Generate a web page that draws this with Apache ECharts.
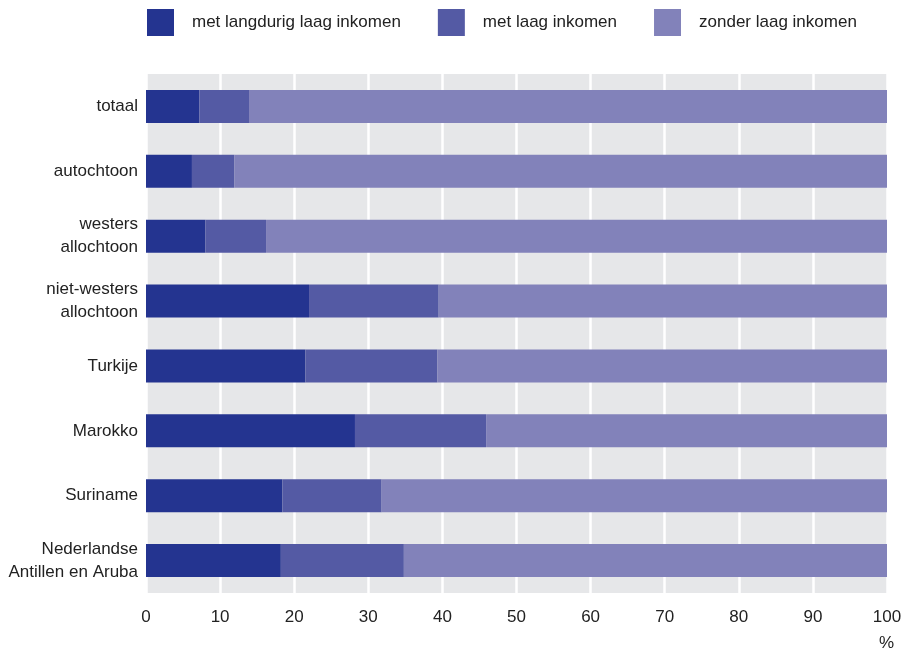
<!DOCTYPE html>
<html>
<head>
<meta charset="utf-8">
<script src="https://cdn.jsdelivr.net/npm/echarts@6/dist/echarts.min.js"></script>
<style>html,body{margin:0;padding:0;background:#fff}#c{width:905px;height:648px}</style>
</head>
<body>
<div id="c"></div>
<script>
const categories = ['totaal', 'autochtoon', 'westers\nallochtoon', 'niet-westers\nallochtoon', 'Turkije', 'Marokko', 'Suriname', 'Nederlandse\nAntillen en Aruba'];
const seriesNames = ['met langdurig laag inkomen', 'met laag inkomen', 'zonder laag inkomen'];
const langdurig = [7.2, 6.2, 8.0, 22.0, 21.5, 28.2, 18.4, 18.2];
const laag = [6.7, 5.7, 8.2, 17.5, 17.8, 17.7, 13.4, 16.6];
const zonder = [86.1, 88.1, 83.8, 60.5, 60.7, 54.1, 68.2, 65.2];
const xTicks = [0, 10, 20, 30, 40, 50, 60, 70, 80, 90, 100];
const colors = ['#243490', '#545aa4', '#8282ba'];
const font = 'Liberation Sans, Arial, sans-serif';

const chart = echarts.init(document.getElementById('c'), null, {renderer: 'canvas'});
const mk = (name, data, i) => ({
  name: name, type: 'bar', stack: 'total', data: data, barWidth: 33,
  itemStyle: {color: colors[i]}, emphasis: {disabled: true}, animation: false
});
chart.setOption({
  animation: false,
  color: colors,
  title: {text: '%', right: 6, top: 630, textStyle: {fontFamily: font, fontSize: 17, fontWeight: 'normal', color: '#222'}},
  legend: {
    left: 142, top: 4, itemWidth: 27, itemHeight: 27, itemGap: 37, icon: 'rect',
    textStyle: {fontFamily: font, fontSize: 17, color: '#222', padding: [0, 0, 0, 13]},
    data: seriesNames, selectedMode: false
  },
  grid: {left: 146, right: 18, top: 74, bottom: 55, show: true, backgroundColor: '#e6e7e9', borderWidth: 0, containLabel: false},
  xAxis: {
    type: 'value', min: xTicks[0], max: xTicks[xTicks.length - 1], interval: 10,
    axisLine: {show: false}, axisTick: {show: false},
    splitLine: {show: true, lineStyle: {color: '#ffffff', width: 2.5}},
    axisLabel: {fontFamily: font, fontSize: 17, color: '#222', margin: 16}
  },
  yAxis: {
    type: 'category', data: categories, inverse: true,
    axisLine: {show: false}, axisTick: {show: false}, splitLine: {show: false},
    axisLabel: {fontFamily: font, fontSize: 17, color: '#222', margin: 8, lineHeight: 23, align: 'right'}
  },
  series: [mk(seriesNames[0], langdurig, 0), mk(seriesNames[1], laag, 1), mk(seriesNames[2], zonder, 2)]
});
</script>
</body>
</html>
